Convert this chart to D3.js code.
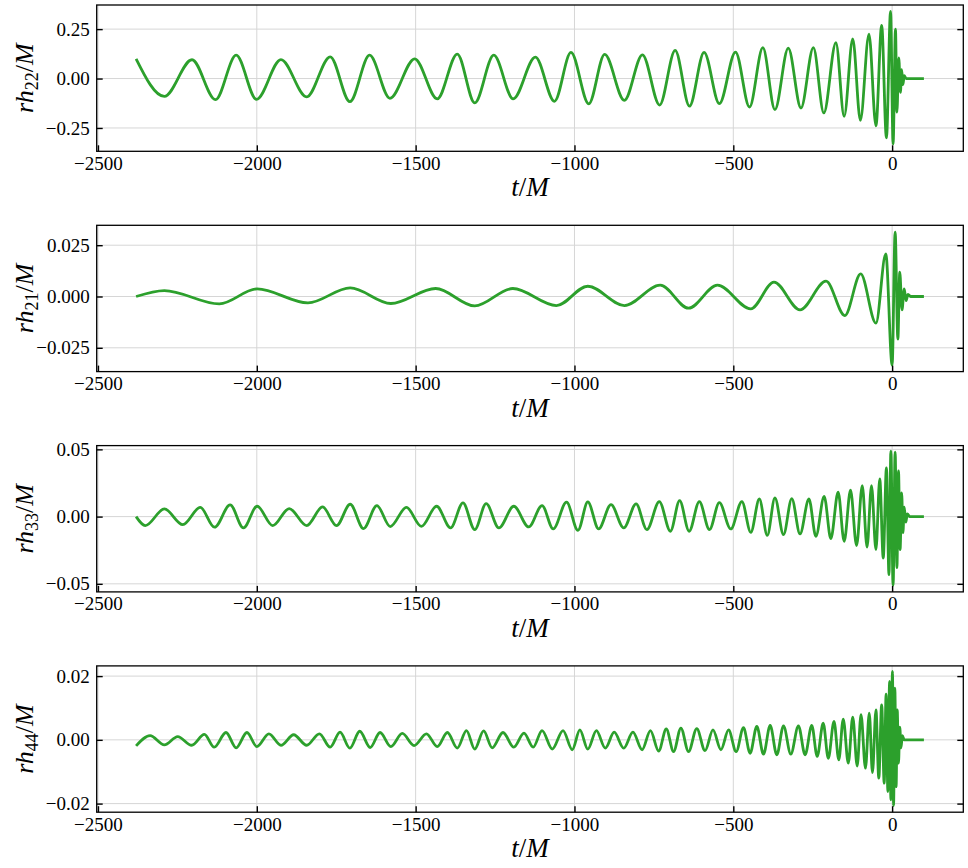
<!DOCTYPE html>
<html>
<head>
<meta charset="utf-8">
<script src="https://cdn.jsdelivr.net/npm/d3@7"></script>
<style>
body { margin: 0; background: #ffffff; }
</style>
</head>
<body>
<svg id="svg1" width="968" height="868"></svg>
<script>
// waveform extrema (t/M, rh/M)
var h22T = [-2380, -2291, -2204, -2130, -2065, -2001, -1924, -1843, -1769, -1707, -1645, -1581, -1503, -1432, -1369, -1314, -1254, -1193, -1123, -1063, -1011, -955, -905, -843, -786, -732, -683, -638, -592, -544, -493, -449, -407, -369, -327, -287, -248, -215, -177, -151, -124, -100, -73, -51, -33, -18, -5, 3, 10.5, 15, 21, 26, 30, 34, 38, 44, 100];
var h22V = [0.10, -0.09, 0.095, -0.107, 0.118, -0.105, 0.096, -0.093, 0.11, -0.117, 0.118, -0.10, 0.10, -0.103, 0.124, -0.123, 0.118, -0.103, 0.108, -0.115, 0.132, -0.128, 0.122, -0.11, 0.12, -0.134, 0.142, -0.14, 0.132, -0.127, 0.134, -0.144, 0.156, -0.157, 0.154, -0.149, 0.156, -0.174, 0.181, -0.191, 0.20, -0.212, 0.225, -0.239, 0.269, -0.30, 0.34, -0.33, 0.25, -0.17, 0.105, -0.07, 0.045, -0.03, 0.015, 0, 0];

var h21T = [-2380, -2291, -2118, -1999, -1839, -1706, -1578, -1437, -1314, -1194, -1057, -958, -843, -730, -641, -550, -445, -372, -290, -208, -149, -99, -51, -20, 0, 9.4, 18, 24, 31, 38, 44, 50, 58, 100];
var h21V = [0, 0.0029, -0.0036, 0.0037, -0.0031, 0.0042, -0.0034, 0.0039, -0.0046, 0.0039, -0.0044, 0.005, -0.0044, 0.0055, -0.0057, 0.0055, -0.006, 0.007, -0.0065, 0.0075, -0.0093, 0.011, -0.013, 0.0208, -0.0334, 0.0314, -0.0207, 0.0119, -0.0065, 0.0037, -0.002, 0.001, 0, 0];

var h33T = [-2380, -2351, -2291, -2233, -2178, -2133, -2084, -2042, -1999, -1950, -1898, -1843, -1793, -1749, -1706, -1664, -1622, -1580, -1529, -1482, -1434, -1390, -1351, -1314, -1278, -1238, -1191, -1144, -1102, -1067, -1025, -989, -958, -924, -885, -845, -806, -772, -733, -698, -669, -639, -607, -575, -544, -508, -473, -445, -418, -393, -369, -342, -316, -290, -262, -240, -214, -193, -170, -151, -131, -112, -94, -79, -65, -51, -39, -28, -18, -10, -4, 3, 9.4, 15, 20, 25, 30, 34, 38, 43, 48, 55, 100];
var h33V = [0, -0.0067, 0.0057, -0.006, 0.0069, -0.0079, 0.0087, -0.0084, 0.0077, -0.0067, 0.006, -0.0067, 0.0072, -0.0067, 0.0092, -0.0089, 0.0082, -0.0074, 0.0069, -0.0072, 0.0077, -0.0084, 0.0102, -0.0097, 0.0097, -0.0084, 0.0077, -0.0077, 0.0082, -0.0092, 0.0107, -0.0102, 0.0109, -0.0092, 0.0089, -0.0084, 0.0094, -0.0097, 0.0112, -0.0109, 0.0119, -0.0109, 0.0112, -0.0097, 0.0104, -0.0092, 0.0112, -0.0117, 0.0131, -0.0139, 0.0139, -0.0134, 0.0134, -0.0129, 0.0131, -0.0146, 0.0151, -0.0164, 0.0181, -0.0184, 0.0196, -0.0216, 0.0231, -0.0226, 0.0231, -0.0246, 0.028, -0.0308, 0.0362, -0.0432, 0.0486, -0.051, 0.0479, -0.038, 0.034, -0.0246, 0.0176, -0.012, 0.007, -0.004, 0.002, 0, 0];

var h44T = [-2380, -2336, -2291, -2249, -2205, -2165, -2134, -2097, -2065, -2031, -2000, -1962, -1924, -1884, -1843, -1803, -1769, -1738, -1707, -1676, -1643, -1612, -1578, -1542, -1505, -1466, -1432, -1400, -1369, -1340, -1314, -1286, -1259, -1225, -1191, -1159, -1130, -1102, -1070, -1036, -1007, -983, -958, -931, -903, -875, -845, -816, -787, -761, -735, -711, -688, -665, -641, -615, -589, -564, -539, -515, -491, -468, -447, -426, -405, -384, -363, -342, -319, -295, -274, -253, -236, -217, -201, -183, -168, -154, -138, -124, -110, -98, -84, -72, -62, -51, -42, -33, -25, -19, -13.5, -8, -4, 1, 4.5, 8.5, 12.5, 16, 20, 24, 28, 32, 38, 100];
var h44V = [-0.0019, 0.0013, -0.0016, 0.001, -0.0017, 0.0017, -0.0023, 0.0023, -0.0025, 0.0023, -0.0021, 0.0019, -0.0017, 0.0016, -0.0017, 0.0019, -0.0023, 0.0024, -0.0026, 0.0027, -0.0024, 0.0023, -0.0021, 0.002, -0.0018, 0.0019, -0.0021, 0.0023, -0.0026, 0.0029, -0.0029, 0.0028, -0.0025, 0.0023, -0.0023, 0.0021, -0.0023, 0.0029, -0.0029, 0.0029, -0.0031, 0.0031, -0.0029, 0.0029, -0.0026, 0.0024, -0.0026, 0.0024, -0.0031, 0.0029, -0.0035, 0.0034, -0.0037, 0.0037, -0.0037, 0.0035, -0.0034, 0.0031, -0.0031, 0.0031, -0.0037, 0.0038, -0.0042, 0.0042, -0.0045, 0.0045, -0.0047, 0.0044, -0.0045, 0.0044, -0.0047, 0.0045, -0.0052, 0.0052, -0.0058, 0.0058, -0.0063, 0.0065, -0.0073, 0.0071, -0.0082, 0.0079, -0.0089, 0.0084, -0.0103, 0.0094, -0.012, 0.011, -0.0136, 0.0143, -0.0162, 0.0183, -0.0188, 0.0215, -0.0206, 0.0162, -0.0147, 0.0094, -0.0073, 0.004, -0.0025, 0.0013, 0, 0];

var xTicks = [-2500, -2000, -1500, -1000, -500, 0];
var yTicks22 = [-0.25, 0, 0.25];
var yTicks21 = [-0.025, 0, 0.025];
var yTicks33 = [-0.05, 0, 0.05];
var yTicks44 = [-0.02, 0, 0.02];
var modeLabels = ['22', '21', '33', '44'];

var plotLeft = 96.7;
var plotWidth = 866.6;
var panelHeight = 146.3;
var lineColor = '#2ca02c';
var serif = 'Liberation Serif';

var xScale = d3.scaleLinear().domain([-2504, 224]).range([0, plotWidth]);

function panelTop(i) {
    return 5 + i * 220.3;
}

function minusFormat(fmt) {
    return function (d) {
        var s = fmt ? d3.format(fmt)(Math.abs(d)) : String(Math.abs(d));
        return d < 0 ? '\u2212' + s : s;
    };
}

function drawPanel(i, tList, vList, yDomain, yTicks, fmt) {
    var yScale = d3.scaleLinear().domain(yDomain).range([panelHeight, 0]);
    var g = d3.select('#svg1').append('g').attr('id', 'panel' + i)
        .attr('transform', 'translate(' + plotLeft + ',' + panelTop(i) + ')');

    // grid
    g.append('g').selectAll('line').data(xTicks).enter().append('line')
        .attr('x1', function (d) { return xScale(d); })
        .attr('x2', function (d) { return xScale(d); })
        .attr('y1', 0)
        .attr('y2', panelHeight)
        .attr('stroke', '#d6d6d6')
        .attr('stroke-width', 1);
    g.append('g').selectAll('line').data(yTicks).enter().append('line')
        .attr('x1', 0)
        .attr('x2', plotWidth)
        .attr('y1', function (d) { return yScale(d); })
        .attr('y2', function (d) { return yScale(d); })
        .attr('stroke', '#d6d6d6')
        .attr('stroke-width', 1);

    var pts = tList.map(function (t, k) { return [t, vList[k]]; });
    var line = d3.line()
        .x(function (d) { return xScale(d[0]); })
        .y(function (d) { return yScale(d[1]); })
        .curve(d3.curveMonotoneX);
    g.append('path').datum(pts)
        .attr('d', line)
        .attr('fill', 'none')
        .attr('stroke', lineColor)
        .attr('stroke-width', 2.8)
        .attr('stroke-linejoin', 'round');

    // axes, ticks pointing in
    var xAxis = g.append('g').attr('transform', 'translate(0,' + panelHeight + ')')
        .call(d3.axisBottom(xScale).tickValues(xTicks).tickSize(-6).tickPadding(5)
            .tickFormat(minusFormat(null)));
    var yAxis = g.append('g')
        .call(d3.axisLeft(yScale).tickValues(yTicks).tickSize(-6).tickPadding(7)
            .tickFormat(minusFormat(fmt)));
    var yAxisR = g.append('g').attr('transform', 'translate(' + plotWidth + ',0)')
        .call(d3.axisRight(yScale).tickValues(yTicks).tickSize(-6).tickFormat(''));
    [xAxis, yAxis, yAxisR].forEach(function (a) {
        a.attr('font-family', serif).attr('font-size', 19);
        a.select('.domain').remove();
        a.selectAll('line').attr('stroke', '#000').attr('stroke-width', 1.4);
        a.selectAll('text').attr('fill', '#000')
            .attr('font-family', serif)
            .attr('font-size', 19);
    });

    g.append('rect')
        .attr('x', 0)
        .attr('y', 0)
        .attr('width', plotWidth)
        .attr('height', panelHeight)
        .attr('fill', 'none')
        .attr('stroke', '#000')
        .attr('stroke-width', 1.3);

    // x label t/M
    var xl = g.append('text')
        .attr('x', plotWidth / 2)
        .attr('y', panelHeight + 45)
        .attr('text-anchor', 'middle')
        .attr('font-family', serif)
        .attr('font-size', 27);
    xl.append('tspan').attr('font-style', 'italic').text('t');
    xl.append('tspan').text('/');
    xl.append('tspan').attr('font-style', 'italic').text('M');

    // y label rh_lm/M
    var yl = g.append('text')
        .attr('transform', 'translate(' + (33 - plotLeft) + ',' + (panelHeight / 2) + ') rotate(-90)')
        .attr('text-anchor', 'middle')
        .attr('font-family', serif)
        .attr('font-size', 26);
    yl.append('tspan').attr('font-style', 'italic').text('rh');
    yl.append('tspan').attr('font-size', 18).attr('dy', 5).text(modeLabels[i]);
    yl.append('tspan').attr('dy', -5).text('/');
    yl.append('tspan').attr('font-style', 'italic').text('M');
}

drawPanel(0, h22T, h22V, [-0.368, 0.372], yTicks22, '.2f');
drawPanel(1, h21T, h21V, [-0.0366, 0.0347], yTicks21, '.3f');
drawPanel(2, h33T, h33V, [-0.056, 0.0528], yTicks33, '.2f');
drawPanel(3, h44T, h44V, [-0.0227, 0.0232], yTicks44, '.2f');
</script>
</body>
</html>
